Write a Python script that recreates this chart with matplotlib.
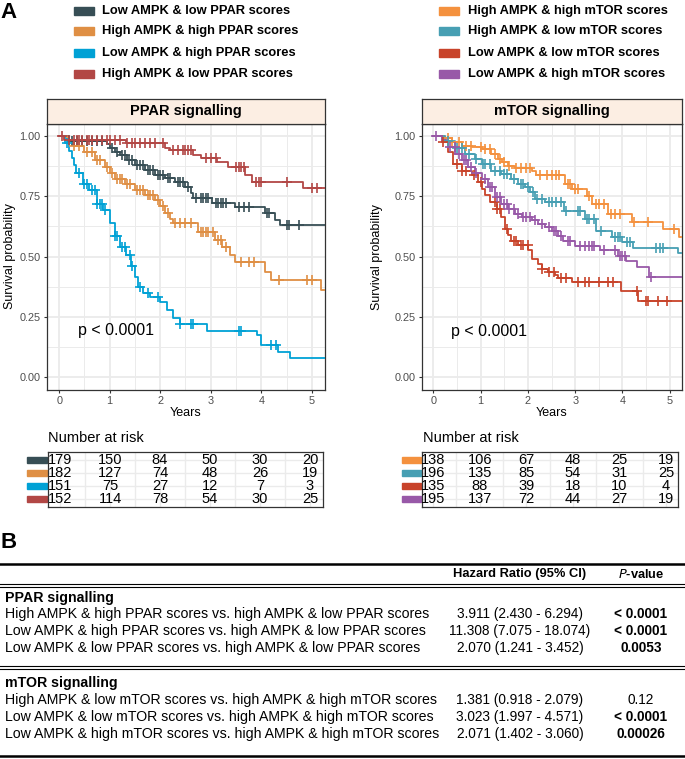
import numpy as np
import matplotlib.pyplot as plt
from matplotlib.patches import Rectangle
from matplotlib.lines import Line2D
from matplotlib import transforms

plt.rcParams['font.family'] = ['Liberation Sans', 'DejaVu Sans']

W, H = 685, 759

# ---------------- data ----------------
# PPAR signalling panel
ppar_labels = ["Low AMPK & low PPAR scores", "High AMPK & high PPAR scores",
               "Low AMPK & high PPAR scores", "High AMPK & low PPAR scores"]
ppar_colors = ["#374E55", "#DF8F44", "#00A1D5", "#B24745"]

ppar_ll_t = [0, 0.2, 0.95, 1.0, 1.1, 1.2, 1.35, 1.5, 1.7, 1.9, 2.1, 2.3, 2.5, 2.6, 2.65, 3.02, 3.48, 4.07, 4.27, 4.37]
ppar_ll_s = [1.0, 0.98, 0.965, 0.95, 0.935, 0.92, 0.90, 0.88, 0.86, 0.84, 0.825, 0.81, 0.79, 0.765, 0.743, 0.722, 0.705, 0.68, 0.651, 0.631]
ppar_ll_c = [0.25, 0.35, 0.45, 0.55, 0.65, 0.75, 0.85, 1.05, 1.15, 1.25, 1.3, 1.38, 1.45, 1.55, 1.6, 1.65, 1.75,
             1.8, 1.85, 1.95, 2.0, 2.05, 2.15, 2.2, 2.35, 2.4, 2.45, 2.55, 2.7, 2.8, 2.85, 2.9, 2.95, 3.1, 3.15,
             3.2, 3.25, 3.3, 3.55, 3.65, 3.75, 4.12, 4.15, 4.5, 4.55, 4.75]

ppar_hh_t = [0, 0.15, 0.3, 0.5, 0.7, 0.9, 1.0, 1.1, 1.3, 1.5, 1.7, 1.9, 2.0, 2.1, 2.2, 2.25, 2.75, 3.08, 3.22,
             3.38, 3.48, 4.07, 4.2, 5.18]
ppar_hh_s = [1.0, 0.98, 0.96, 0.935, 0.90, 0.87, 0.845, 0.82, 0.80, 0.775, 0.755, 0.735, 0.71, 0.68, 0.655,
             0.638, 0.60, 0.568, 0.54, 0.506, 0.477, 0.436, 0.402, 0.36]
ppar_hh_c = [0.3, 0.4, 0.55, 0.65, 0.75, 0.8, 0.95, 1.05, 1.15, 1.2, 1.25, 1.35, 1.4, 1.55, 1.6, 1.65, 1.75,
             1.8, 1.85, 1.95, 2.05, 2.15, 2.3, 2.4, 2.5, 2.6, 2.8, 2.85, 2.9, 2.95, 3.05, 3.15, 3.2, 3.3,
             3.6, 3.75, 3.85, 4.35, 4.9, 5.0]

ppar_lh_t = [0, 0.12, 0.2, 0.25, 0.3, 0.34, 0.48, 0.6, 0.74, 0.87, 1.0, 1.1, 1.2, 1.33, 1.43, 1.5, 1.57,
             1.66, 1.8, 2.0, 2.13, 2.26, 2.4, 2.93, 3.91, 4.0, 4.33, 4.57]
ppar_lh_s = [1.0, 0.97, 0.94, 0.91, 0.88, 0.845, 0.80, 0.775, 0.72, 0.695, 0.64, 0.585, 0.54, 0.505, 0.46,
             0.415, 0.375, 0.35, 0.33, 0.31, 0.28, 0.245, 0.222, 0.19, 0.176, 0.133, 0.104, 0.08]
ppar_lh_c = [0.15, 0.4, 0.5, 0.55, 0.65, 0.7, 0.75, 0.8, 0.85, 0.9, 1.1, 1.15, 1.25, 1.3, 1.4, 1.45, 1.6,
             1.75, 1.95, 2.4, 2.6, 2.65, 3.55, 3.6, 4.2, 4.3]

ppar_hl_t = [0, 0.1, 1.33, 2.1, 2.2, 2.65, 2.8, 3.12, 3.34, 3.68, 3.81, 4.82]
ppar_hl_s = [1.0, 0.983, 0.97, 0.952, 0.942, 0.921, 0.907, 0.892, 0.871, 0.838, 0.809, 0.784]
ppar_hl_c = [0.05, 0.2, 0.3, 0.35, 0.4, 0.45, 0.55, 0.6, 0.65, 0.75, 0.85, 0.95, 1.0, 1.1, 1.2, 1.35,
             1.45, 1.5, 1.6, 1.7, 1.8, 1.9, 2.05, 2.25, 2.35, 2.45, 2.5, 2.55, 2.6, 2.9, 3.0, 3.1, 3.5,
             3.55, 3.6, 3.65, 3.9, 3.95, 4.0, 4.5, 5.0, 5.1]

ppar_risk_ll = [179, 150, 84, 50, 30, 20]
ppar_risk_hh = [182, 127, 74, 48, 26, 19]
ppar_risk_lh = [151, 75, 27, 12, 7, 3]
ppar_risk_hl = [152, 114, 78, 54, 30, 25]

# mTOR signalling panel
mtor_labels = ["High AMPK & high mTOR scores", "High AMPK & low mTOR scores",
               "Low AMPK & low mTOR scores", "Low AMPK & high mTOR scores"]
mtor_colors = ["#F4913E", "#479FB3", "#C8432A", "#9859A8"]

mtor_hh_t = [0, 0.25, 0.39, 0.6, 0.81, 1.02, 1.23, 1.37, 1.45, 1.58, 1.73, 2.08, 2.18, 2.78, 2.93, 3.24,
             3.35, 3.7, 4.2, 4.85, 5.2]
mtor_hh_s = [1.0, 0.99, 0.975, 0.96, 0.955, 0.945, 0.927, 0.906, 0.892, 0.876, 0.867, 0.857, 0.838, 0.80,
             0.78, 0.75, 0.718, 0.676, 0.643, 0.615, 0.58]
mtor_hh_c = [0.3, 0.4, 0.55, 0.7, 0.8, 1.0, 1.1, 1.2, 1.3, 1.4, 1.5, 1.6, 1.75, 1.85, 1.95, 2.05, 2.25,
             2.4, 2.5, 2.6, 2.65, 2.85, 2.9, 3.0, 3.05, 3.3, 3.45, 3.5, 3.6, 3.75, 3.85, 3.95, 4.25, 4.55, 5.1]

mtor_hl_t = [0, 0.25, 0.46, 0.67, 0.88, 1.02, 1.23, 1.44, 1.65, 1.8, 1.94, 2.04, 2.15, 2.36, 2.76, 3.2,
             3.45, 3.78, 4.0, 4.22, 5.18]
mtor_hl_s = [1.0, 0.978, 0.95, 0.927, 0.906, 0.885, 0.857, 0.844, 0.823, 0.802, 0.788, 0.768, 0.74, 0.726,
             0.69, 0.656, 0.606, 0.58, 0.56, 0.535, 0.515]
mtor_hl_c = [0.3, 0.5, 0.6, 0.75, 0.9, 1.05, 1.1, 1.2, 1.3, 1.4, 1.5, 1.55, 1.7, 1.85, 1.9, 2.0, 2.1, 2.2,
             2.3, 2.45, 2.5, 2.6, 2.7, 2.8, 3.05, 3.1, 3.25, 3.3, 3.4, 3.55, 3.85, 3.9, 3.95, 4.1, 4.15,
             4.7, 4.8, 4.85]

mtor_ll_t = [0, 0.18, 0.32, 0.42, 0.6, 0.81, 0.95, 1.02, 1.09, 1.2, 1.34, 1.44, 1.51, 1.58, 1.65, 1.8, 2.01,
             2.08, 2.22, 2.29, 2.43, 2.57, 2.64, 2.93, 3.98, 4.33]
mtor_ll_s = [1.0, 0.975, 0.934, 0.885, 0.857, 0.837, 0.809, 0.781, 0.754, 0.726, 0.698, 0.664, 0.615, 0.588,
             0.563, 0.546, 0.526, 0.491, 0.47, 0.45, 0.436, 0.422, 0.411, 0.394, 0.357, 0.315]
mtor_ll_c = [0.2, 0.5, 0.6, 0.7, 0.85, 1.0, 1.3, 1.35, 1.4, 1.55, 1.7, 1.75, 1.85, 1.9, 2.0, 2.3, 2.45,
             2.55, 2.7, 2.8, 3.05, 3.2, 3.3, 3.5, 3.7, 3.8, 4.3, 4.5, 4.55, 4.75, 4.95]

mtor_lh_t = [0, 0.18, 0.32, 0.46, 0.6, 0.74, 0.88, 1.02, 1.16, 1.3, 1.44, 1.58, 1.73, 1.87, 2.08, 2.22,
             2.36, 2.5, 2.64, 2.75, 3.0, 3.52, 3.9, 4.07, 4.31, 4.56]
mtor_lh_s = [1.0, 0.982, 0.954, 0.927, 0.899, 0.871, 0.848, 0.823, 0.788, 0.747, 0.719, 0.698, 0.678, 0.664,
             0.65, 0.636, 0.622, 0.606, 0.585, 0.565, 0.544, 0.527, 0.502, 0.48, 0.456, 0.415]
mtor_lh_c = [0.05, 0.35, 0.45, 0.55, 0.65, 0.7, 0.8, 0.9, 1.1, 1.2, 1.25, 1.35, 1.4, 1.5, 1.55, 1.6, 1.7,
             1.8, 1.9, 1.95, 2.05, 2.15, 2.3, 2.45, 2.55, 2.6, 2.7, 2.85, 2.9, 3.1, 3.2, 3.3, 3.35, 3.4,
             3.6, 3.85, 3.95, 4.0, 4.05, 4.6]

mtor_risk_hh = [138, 106, 67, 48, 25, 19]
mtor_risk_hl = [196, 135, 85, 54, 31, 25]
mtor_risk_ll = [135, 88, 39, 18, 10, 4]
mtor_risk_lh = [195, 137, 72, 44, 27, 19]

risk_times = [0, 1, 2, 3, 4, 5]
pval_text = "p < 0.0001"

# table B
tab_ppar_rows = ["High AMPK & high PPAR scores vs. high AMPK & low PPAR scores",
                 "Low AMPK & high PPAR scores vs. high AMPK & low PPAR scores",
                 "Low AMPK & low PPAR scores vs. high AMPK & low PPAR scores"]
tab_ppar_hr = ["3.911 (2.430 - 6.294)", "11.308 (7.075 - 18.074)", "2.070 (1.241 - 3.452)"]
tab_ppar_p = ["< 0.0001", "< 0.0001", "0.0053"]
tab_ppar_bold = [True, True, True]
tab_mtor_rows = ["High AMPK & low mTOR scores vs. high AMPK & high mTOR scores",
                 "Low AMPK & low mTOR scores vs. high AMPK & high mTOR scores",
                 "Low AMPK & high mTOR scores vs. high AMPK & high mTOR scores"]
tab_mtor_hr = ["1.381 (0.918 - 2.079)", "3.023 (1.997 - 4.571)", "2.071 (1.402 - 3.060)"]
tab_mtor_p = ["0.12", "< 0.0001", "0.00026"]
tab_mtor_bold = [False, True, True]


# ---------------- helpers ----------------
def rect(x0, y0, x1, y1):
    # pixel box -> figure fraction
    return [x0 / W, 1 - y1 / H, (x1 - x0) / W, (y1 - y0) / H]


def ftext(x, y, s, **kw):
    fig.text(x / W, 1 - y / H, s, **kw)


def hline(y, lw, x0=0, x1=W):
    fig.add_artist(Line2D([x0 / W, x1 / W], [1 - y / H, 1 - y / H], color='black', lw=lw))


XLIM = (-0.24, 5.26)


def km(ax, t, s, cens, color):
    t = np.asarray(t)
    s = np.asarray(s)
    ax.step(np.append(t, 5.4), np.append(s, s[-1]), where='post', color=color, lw=1.3, zorder=3)
    idx = np.searchsorted(t, cens, side='right') - 1
    ax.plot(cens, s[idx], ls='none', marker='+', ms=7, mew=1.2, color=color, zorder=4)


def style_km(ax):
    ax.set_xlim(*XLIM)
    ax.set_ylim(-0.054, 1.05)
    ax.set_xticks(range(6))
    ax.set_xticks(np.arange(0.5, 5.5, 1), minor=True)
    ax.set_yticks([0, 0.25, 0.5, 0.75, 1.0])
    ax.set_yticklabels(["0.00", "0.25", "0.50", "0.75", "1.00"])
    ax.set_yticks([0.125, 0.375, 0.625, 0.875], minor=True)
    ax.grid(which='major', color='#EBEBEB', lw=1.3)
    ax.grid(which='minor', color='#EBEBEB', lw=0.7)
    ax.set_axisbelow(True)
    ax.tick_params(which='minor', length=0)
    ax.tick_params(which='major', length=2.5, color='#333333', labelsize=7.8,
                   labelcolor='#4D4D4D', pad=2, width=0.8)
    for sp in ax.spines.values():
        sp.set_color('#333333')
        sp.set_linewidth(0.9)


def strip(box, title):
    sax = fig.add_axes(rect(*box))
    sax.set_facecolor('#FCEEE3')
    sax.set_xticks([])
    sax.set_yticks([])
    for sp in sax.spines.values():
        sp.set_color('#333333')
        sp.set_linewidth(0.9)
    sax.text(0.5, 0.5, title, ha='center', va='center', fontsize=10.5, fontweight='bold',
             transform=sax.transAxes)


def risk_table(box, rows, colors):
    tax = fig.add_axes(rect(*box))
    tax.set_xlim(*XLIM)
    tax.set_ylim(0.4, 4.6)
    tax.set_xticks(range(6))
    tax.set_xticks(np.arange(0.5, 5.5, 1), minor=True)
    tax.set_yticks([1, 2, 3, 4])
    tax.grid(which='both', color='#EBEBEB', lw=1.0)
    tax.set_axisbelow(True)
    tax.tick_params(which='both', length=0, labelbottom=False, labelleft=False)
    for sp in tax.spines.values():
        sp.set_color('#333333')
        sp.set_linewidth(0.9)
    blend = transforms.blended_transform_factory(tax.transAxes, tax.transData)
    for i, (vals, col) in enumerate(zip(rows, colors)):
        y = 4 - i
        for tx, v in zip(risk_times, vals):
            tax.text(tx, y, str(v), ha='center', va='center', fontsize=10.5, zorder=3)
        tax.add_patch(Rectangle((-0.077, y - 0.25), 0.074, 0.5, transform=blend,
                                color=col, clip_on=False))


def legend(x_patch, x_text, labels, colors):
    for y, lab, col in zip([11, 31, 53, 74], labels, colors):
        fig.patches.append(Rectangle((x_patch / W, 1 - (y + 3.5) / H), 20 / W, 7 / H,
                                     transform=fig.transFigure, color=col))
        ftext(x_text, y, lab, ha='left', va='center', fontsize=9.3, fontweight='bold')


# ---------------- figure ----------------
fig = plt.figure(figsize=(W / 100, H / 100), dpi=100)

ftext(0, 13, "A", fontsize=16, fontweight='bold', ha='left', va='center')
ftext(0, 542, "B", fontsize=16, fontweight='bold', ha='left', va='center')

legend(74, 102, ppar_labels, ppar_colors)
legend(439, 468, mtor_labels, mtor_colors)

# PPAR panel
ax1 = fig.add_axes(rect(47, 124, 325, 390))
style_km(ax1)
km(ax1, ppar_ll_t, ppar_ll_s, ppar_ll_c, ppar_colors[0])
km(ax1, ppar_hh_t, ppar_hh_s, ppar_hh_c, ppar_colors[1])
km(ax1, ppar_lh_t, ppar_lh_s, ppar_lh_c, ppar_colors[2])
km(ax1, ppar_hl_t, ppar_hl_s, ppar_hl_c, ppar_colors[3])
ax1.text(0.37, 0.195, pval_text, fontsize=11.5, ha='left', va='center')
strip((47, 99, 325, 124), "PPAR signalling")
ftext(10, 256, "Survival probability", rotation=90, ha='center', va='center', fontsize=9)
ftext(186, 413, "Years", ha='center', va='center', fontsize=9)
ftext(48, 438, "Number at risk", ha='left', va='center', fontsize=10.5)
risk_table((48, 452, 323, 507), [ppar_risk_ll, ppar_risk_hh, ppar_risk_lh, ppar_risk_hl], ppar_colors)

# mTOR panel
ax2 = fig.add_axes(rect(422, 124, 682, 390))
style_km(ax2)
km(ax2, mtor_hh_t, mtor_hh_s, mtor_hh_c, mtor_colors[0])
km(ax2, mtor_hl_t, mtor_hl_s, mtor_hl_c, mtor_colors[1])
km(ax2, mtor_ll_t, mtor_ll_s, mtor_ll_c, mtor_colors[2])
km(ax2, mtor_lh_t, mtor_lh_s, mtor_lh_c, mtor_colors[3])
ax2.text(0.38, 0.19, pval_text, fontsize=11.5, ha='left', va='center')
strip((422, 99, 682, 124), "mTOR signalling")
ftext(377, 257, "Survival probability", rotation=90, ha='center', va='center', fontsize=9)
ftext(552, 413, "Years", ha='center', va='center', fontsize=9)
ftext(423, 438, "Number at risk", ha='left', va='center', fontsize=10.5)
risk_table((422, 452, 678, 507), [mtor_risk_hh, mtor_risk_hl, mtor_risk_ll, mtor_risk_lh], mtor_colors)

# ---------------- table B ----------------
HR_X, P_X = 520, 641
ROW_FS, NUM_FS = 10.2, 9.8
hline(564, 1.8)
ftext(HR_X, 574, "Hazard Ratio (95% CI)", ha='center', va='center', fontsize=9.3, fontweight='bold')
ftext(P_X, 574, r"$\bf{\it{P}}$" + "-value", ha='center', va='center', fontsize=9.3, fontweight='bold')
hline(583.5, 0.8)
hline(586.5, 0.8)

ftext(5, 598, "PPAR signalling", ha='left', va='center', fontsize=ROW_FS, fontweight='bold')
for i, (r, hr, p, b) in enumerate(zip(tab_ppar_rows, tab_ppar_hr, tab_ppar_p, tab_ppar_bold)):
    y = 614 + 17 * i
    ftext(5, y, r, ha='left', va='center', fontsize=ROW_FS)
    ftext(HR_X, y, hr, ha='center', va='center', fontsize=NUM_FS)
    ftext(P_X, y, p, ha='center', va='center', fontsize=NUM_FS, fontweight='bold' if b else 'normal')

hline(665.5, 0.8)
hline(668.5, 0.8)

ftext(5, 683, "mTOR signalling", ha='left', va='center', fontsize=ROW_FS, fontweight='bold')
for i, (r, hr, p, b) in enumerate(zip(tab_mtor_rows, tab_mtor_hr, tab_mtor_p, tab_mtor_bold)):
    y = 700 + 17 * i
    ftext(5, y, r, ha='left', va='center', fontsize=ROW_FS)
    ftext(HR_X, y, hr, ha='center', va='center', fontsize=NUM_FS)
    ftext(P_X, y, p, ha='center', va='center', fontsize=NUM_FS, fontweight='bold' if b else 'normal')

hline(756, 1.8)

fig.savefig("out.png", dpi=100)
